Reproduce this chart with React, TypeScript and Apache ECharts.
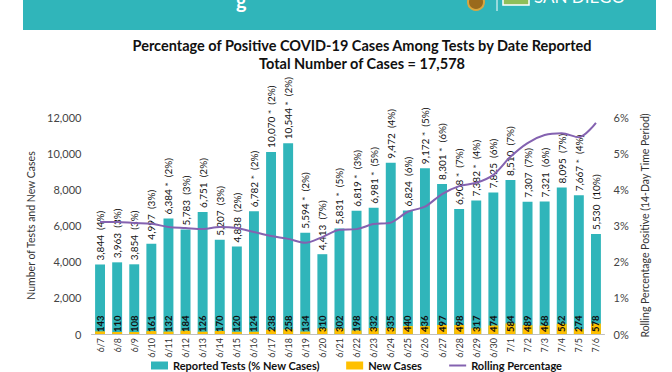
import React, { useEffect, useRef } from "react";
import * as echarts from "echarts";

const dates = ["6/7","6/8","6/9","6/10","6/11","6/12","6/13","6/14","6/15","6/16","6/17","6/18","6/19","6/20","6/21","6/22","6/23","6/24","6/25","6/26","6/27","6/28","6/29","6/30","7/1","7/2","7/3","7/4","7/5","7/6"];
const reportedTests = [3844,3963,3854,4997,6384,5783,6751,5207,4838,6782,10070,10544,5594,4413,5831,6819,6981,9472,6824,9172,8301,6908,7382,7825,8510,7307,7321,8095,7667,5530];
const starred = [0,0,0,0,1,0,0,0,0,1,1,1,1,0,1,1,1,0,0,1,1,1,1,0,0,0,0,0,1,0];
const pctNew = [4,3,3,3,2,3,2,3,2,2,2,2,2,7,5,3,5,4,6,5,6,7,4,6,7,7,6,7,4,10];
const newCases = [143,110,108,161,132,184,126,170,120,124,238,258,134,310,302,198,332,335,440,436,497,498,317,474,584,489,468,562,274,578];
const rollingPct = [3.10,3.10,3.07,3.05,2.96,2.93,2.90,2.96,2.93,2.82,2.71,2.63,2.52,2.68,2.88,2.90,3.04,3.08,3.38,3.52,3.87,4.09,4.18,4.40,4.90,5.28,5.50,5.55,5.44,5.84];
const leftTicks = { min: 0, max: 12000, interval: 2000 };
const rightTicks = { min: 0, max: 6, interval: 1 };

const TEAL = "#30b5ba";
const YELLOW = "#ffc000";
const PURPLE = "#8462b0";
const FONT = "Lato";

const fmt = (v: number) => v.toLocaleString("en-US");

export default function App() {
  const ref = useRef<HTMLDivElement>(null);
  useEffect(() => {
    if (!ref.current) return;
    const chart = echarts.init(ref.current, null, { renderer: "svg" });
    chart.setOption({
      animation: false,
      backgroundColor: "#ffffff",
      textStyle: { fontFamily: FONT },
      title: [
        {
          text: "Percentage of Positive COVID-19 Cases Among Tests by Date Reported",
          left: 357, top: 33, textAlign: "center",
          textStyle: { fontFamily: FONT, fontSize: 14.5, fontWeight: "bold", color: "#111" },
        },
        {
          text: "Total Number of Cases = 17,578",
          left: 357, top: 51, textAlign: "center",
          textStyle: { fontFamily: FONT, fontSize: 14.5, fontWeight: "bold", color: "#111" },
        },
      ],
      graphic: [
        { type: "rect", shape: { x: 23, y: 0, width: 633, height: 30 }, style: { fill: TEAL } },
        { type: "text", x: 236, y: -10, style: { text: "g", fill: "#fff", font: "bold 20px " + FONT } },
        { type: "circle", shape: { cx: 476, cy: 2, r: 8 }, style: { fill: "#9a6a1c", stroke: "#d8a640", lineWidth: 2 } },
        { type: "line", shape: { x1: 497, y1: 0, x2: 497, y2: 11 }, style: { stroke: "#ffffff", lineWidth: 1 } },
        { type: "rect", shape: { x: 503, y: -4, width: 26, height: 9 }, style: { fill: "#8fbf5a", stroke: "#ffffff", lineWidth: 1.5 } },
        { type: "text", x: 534, y: -12, style: { text: "SAN DIEGO", fill: "#ffffff", font: "17px " + FONT } },
      ],
      legend: {
        bottom: -4,
        left: 146,
        itemGap: 26,
        itemWidth: 17,
        itemHeight: 8,
        textStyle: { fontFamily: FONT, fontSize: 11, fontWeight: "bold", color: "#111" },
        data: [
          { name: "Reported Tests (% New Cases)", icon: "rect" },
          { name: "New Cases", icon: "rect" },
          { name: "Rolling Percentage", itemStyle: { opacity: 0 } },
        ],
      },
      grid: { left: 91.5, right: 67.5, top: 117, bottom: 38 },
      xAxis: {
        type: "category",
        data: dates,
        axisLine: { lineStyle: { color: "#bfbfbf" } },
        axisTick: { show: false },
        axisLabel: { rotate: 90, fontSize: 9, color: "#333", margin: 4, interval: 0, fontFamily: FONT },
      },
      yAxis: [
        {
          type: "value",
          ...leftTicks,
          name: "Number of Tests and New Cases",
          nameLocation: "middle",
          nameGap: 36,
          nameTextStyle: { fontSize: 10.5, color: "#333", fontFamily: FONT },
          splitLine: { show: false },
          axisLine: { show: false },
          axisTick: { show: false },
          axisLabel: { formatter: (v: number) => fmt(v), fontSize: 11, color: "#444", margin: 10, fontFamily: FONT },
        },
        {
          type: "value",
          ...rightTicks,
          position: "right",
          name: "Rolling Percentage Positive (14-Day Time Period)",
          nameLocation: "middle",
          nameGap: 32,
          nameRotate: 90,
          nameTextStyle: { fontSize: 10.5, color: "#333", fontFamily: FONT },
          splitLine: { show: false },
          axisLine: { show: false },
          axisTick: { show: false },
          axisLabel: { formatter: "{value}%", fontSize: 11, color: "#444", margin: 9, fontFamily: FONT },
        },
      ],
      series: [
        {
          name: "Reported Tests (% New Cases)",
          type: "bar",
          data: reportedTests,
          barWidth: "58%",
          barGap: "-100%",
          itemStyle: { color: TEAL },
          label: {
            show: true,
            position: "top",
            rotate: 90,
            align: "left",
            verticalAlign: "middle",
            distance: 4,
            fontSize: 10,
            color: "#111",
            fontFamily: FONT,
            formatter: (p: any) => `${fmt(p.value)}${starred[p.dataIndex] ? " *" : ""}  (${pctNew[p.dataIndex]}%)`,
          },
          z: 2,
        },
        {
          name: "New Cases",
          type: "bar",
          data: newCases,
          barWidth: "58%",
          itemStyle: { color: YELLOW },
          label: {
            show: true,
            position: "insideBottom",
            rotate: 90,
            align: "left",
            verticalAlign: "middle",
            distance: 2,
            fontSize: 9.5,
            fontWeight: "bold",
            color: "#111",
            fontFamily: FONT,
          },
          z: 3,
        },
        {
          name: "Rolling Percentage",
          type: "line",
          yAxisIndex: 1,
          data: rollingPct,
          smooth: 0.3,
          showSymbol: false,
          symbol: "none",
          lineStyle: { color: PURPLE, width: 2 },
          itemStyle: { color: PURPLE },
          z: 4,
        },
      ],
    });
    return () => chart.dispose();
  }, []);
  return <div ref={ref} style={{ position: "fixed", left: 0, top: 0, width: 672, height: 372 }} />;
}
